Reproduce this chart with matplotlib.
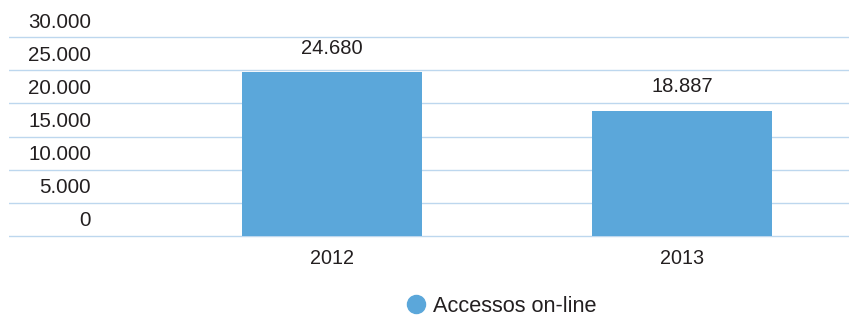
import matplotlib
matplotlib.use("Agg")
import matplotlib.pyplot as plt
from matplotlib.lines import Line2D
from matplotlib.transforms import ScaledTranslation

plt.rcParams['font.family'] = ['Liberation Sans', 'DejaVu Sans']

categories = ['2012', '2013']
values = [24680, 18887]
value_labels = ['24.680', '18.887']
yticks = [0, 5000, 10000, 15000, 20000, 25000, 30000]
ytick_labels = ['0', '5.000', '10.000', '15.000', '20.000', '25.000', '30.000']
series_name = 'Accessos on-line'

bar_color = '#5BA7DA'
grid_color = '#BDD7EE'
text_color = '#231F20'

W, H = 849, 316
fig = plt.figure(figsize=(W / 100, H / 100), dpi=100)
ax_bottom = (H - 239.3) / H
ax_top = (H - 33.7) / H
ax = fig.add_axes([9 / W, ax_bottom, 1 - 9 / W, ax_top - ax_bottom])

x = list(range(len(categories)))
ax.bar(x, values, width=0.517, color=bar_color, zorder=3)
ax.set_xlim(-(332 - 9) / 350, 1 + (849 - 682) / 350)
ax.set_ylim(-500, 30500)

ax.set_yticks(yticks)
ax.set_yticklabels([])
ax.tick_params(axis='y', length=0)
ax.yaxis.grid(True, color=grid_color, linewidth=1.0, zorder=0)
ax.set_axisbelow(True)
for s in ax.spines.values():
    s.set_visible(False)

ax.set_xticks(x)
ax.set_xticklabels(categories, fontsize=14.2, color=text_color)
ax.tick_params(axis='x', length=0, pad=7)

off = ScaledTranslation(0, 15 / 100, fig.dpi_scale_trans)
lab_x = (91 - 9) / (W - 9)
for t, lab in zip(yticks, ytick_labels):
    ax.text(lab_x, t, lab, transform=ax.get_yaxis_transform() + off,
            ha='right', va='center', fontsize=14.8, color=text_color)

voff = ScaledTranslation(0, 24 / 100, fig.dpi_scale_trans)
for xi, v, lab in zip(x, values, value_labels):
    ax.text(xi, v, lab, transform=ax.transData + voff,
            ha='center', va='center', fontsize=14.5, color=text_color)

h = Line2D([], [], marker='o', ls='', color=bar_color, markersize=13)
fig.legend(handles=[h], labels=[series_name], loc='center',
           bbox_to_anchor=(501 / W, 1 - 306 / H), frameon=False,
           fontsize=15.7, handletextpad=0.28, handlelength=1.0,
           labelcolor=text_color)

fig.savefig('out.png', dpi=100)
